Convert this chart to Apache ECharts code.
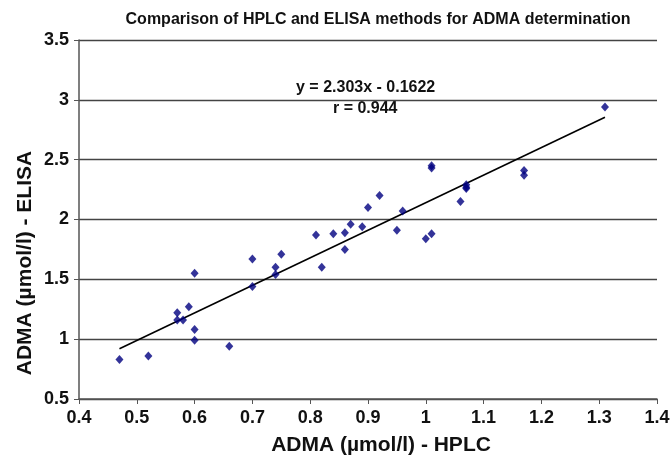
<!DOCTYPE html>
<html><head><meta charset="utf-8">
<script src="https://cdn.jsdelivr.net/npm/echarts@6/dist/echarts.min.js"></script>
<style>html,body{margin:0;padding:0;background:#fff}#c{width:671px;height:455px}</style>
</head><body><div id="c"></div>
<script>
const hplc  = [0.47,0.52,0.57,0.57,0.58,0.59,0.60,0.60,0.60,0.66,0.70,0.70,0.74,0.74,0.75,0.81,0.82,0.84,0.86,0.86,0.87,0.89,0.90,0.92,0.95,0.96,1.00,1.01,1.01,1.01,1.06,1.07,1.07,1.07,1.17,1.17,1.31];
const elisa = [0.83,0.86,1.22,1.16,1.16,1.27,1.55,1.08,0.99,0.94,1.67,1.44,1.60,1.54,1.71,1.87,1.60,1.88,1.89,1.75,1.96,1.94,2.10,2.20,1.91,2.07,1.84,1.88,2.45,2.43,2.15,2.29,2.27,2.26,2.41,2.37,2.94];
const slope = 2.303, intercept = -0.1622;
const fitX = [0.47, 1.31];
const xTicks = [0.4,0.5,0.6,0.7,0.8,0.9,1,1.1,1.2,1.3,1.4];
const yTicks = [0.5,1,1.5,2,2.5,3,3.5];

const font = 'Liberation Sans, Arial, sans-serif';
const chart = echarts.init(document.getElementById('c'));
chart.setOption({
  animation: false,
  backgroundColor: '#fff',
  title: {
    text: 'Comparison of HPLC and ELISA methods for ADMA determination',
    left: 373, top: 7, textAlign: 'center',
    textStyle: {fontFamily: font, fontSize: 16, fontWeight: 'bold', color: '#111'}
  },
  grid: {left: 79, right: 14, top: 40, bottom: 56, containLabel: false, outerBoundsMode: 'none'},
  xAxis: {
    type: 'value', min: 0.4, max: 1.4, interval: 0.1,
    name: 'ADMA (µmol/l) - HPLC', nameLocation: 'middle', nameGap: 36,
    nameTextStyle: {fontFamily: font, fontSize: 21, fontWeight: 'bold', color: '#111', padding: [0, 0, 0, 26]},
    axisLine: {lineStyle: {color: '#555', width: 1.5}},
    axisTick: {show: true, length: 5, lineStyle: {color: '#555'}},
    splitLine: {show: false},
    axisLabel: {fontFamily: font, fontSize: 18, fontWeight: 'bold', color: '#111', margin: 10,
      formatter: v => { const t = xTicks.find(k => Math.abs(k - v) < 1e-6); return t === undefined ? '' : String(t); }}
  },
  yAxis: {
    type: 'value', min: 0.5, max: 3.5, interval: 0.5,
    axisLine: {show: true, lineStyle: {color: '#555', width: 1.5}},
    axisTick: {show: true, length: 5, lineStyle: {color: '#555'}},
    splitLine: {show: true, lineStyle: {color: '#444', width: 1.3}},
    axisLabel: {fontFamily: font, fontSize: 18, fontWeight: 'bold', color: '#111', margin: 10,
      formatter: v => { const t = yTicks.find(k => Math.abs(k - v) < 1e-6); return t === undefined ? '' : String(t); }}
  },
  series: [
    {
      type: 'line', data: fitX.map(x => [x, slope * x + intercept]),
      symbol: 'none', lineStyle: {color: '#000', width: 1.6}, z: 2, silent: true
    },
    {
      type: 'scatter', data: hplc.map((x, i) => [x, elisa[i]]),
      symbol: 'diamond', symbolSize: [8, 9], itemStyle: {color: '#000080'}, z: 3
    }
  ],
  graphic: [
    {type: 'text', x: 25, y: 263, rotation: Math.PI / 2,
     style: {text: 'ADMA (µmol/l) - ELISA', font: 'bold 21px ' + font, fill: '#111', align: 'center', verticalAlign: 'middle'}},
    {type: 'text', left: 296, top: 80, style: {text: 'y = 2.303x - 0.1622', font: 'bold 16px ' + font, fill: '#111'}},
    {type: 'text', left: 333, top: 101, style: {text: 'r = 0.944', font: 'bold 16px ' + font, fill: '#111'}}
  ]
});
</script></body></html>
